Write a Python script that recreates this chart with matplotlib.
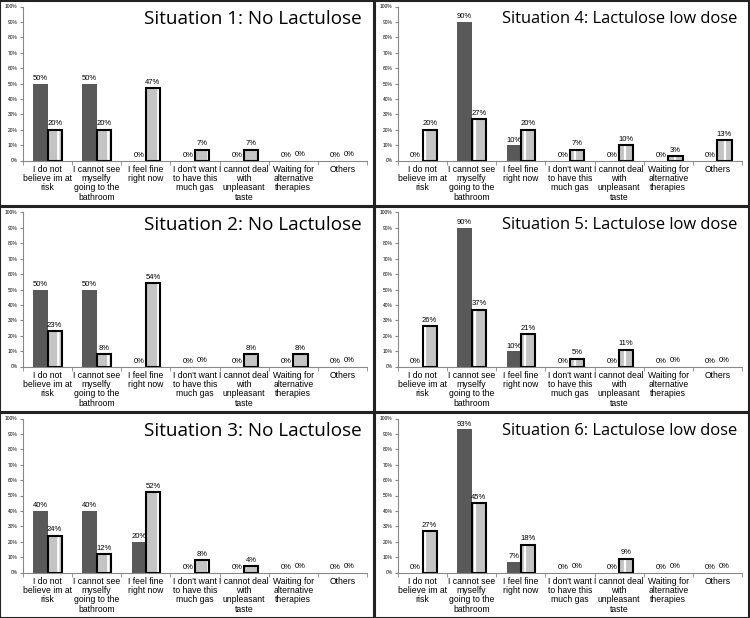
import matplotlib
matplotlib.use('Agg')
from matplotlib import pyplot as plt
from matplotlib.patches import Rectangle
import numpy as np

categories = ["I do not\nbelieve im at\nrisk",
              "I cannot see\nmyselfy\ngoing to the\nbathroom",
              "I feel fine\nright now",
              "I don't want\nto have this\nmuch gas",
              "I cannot deal\nwith\nunpleasant\ntaste",
              "Waiting for\nalternative\ntherapies",
              "Others"]

titles = ["Situation 1: No Lactulose", "Situation 2: No Lactulose",
          "Situation 3: No Lactulose", "Situation 4: Lactulose low dose",
          "Situation 5: Lactulose low dose", "Situation 6: Lactulose low dose"]

# dark bars and striped bars, in percent
dark = [[50, 50, 0, 0, 0, 0, 0],
        [50, 50, 0, 0, 0, 0, 0],
        [40, 40, 20, 0, 0, 0, 0],
        [0, 90, 10, 0, 0, 0, 0],
        [0, 90, 10, 0, 0, 0, 0],
        [0, 93, 7, 0, 0, 0, 0]]
striped = [[20, 20, 47, 7, 7, 0, 0],
           [23, 8, 54, 0, 8, 8, 0],
           [24, 12, 52, 8, 4, 0, 0],
           [20, 27, 20, 7, 10, 3, 13],
           [26, 37, 21, 5, 11, 0, 0],
           [27, 45, 18, 0, 9, 0, 0]]

W, H = 750, 618
fig = plt.figure(figsize=(W / 100, H / 100), dpi=100)
plt.rcParams['font.family'] = 'Liberation Sans'
plt.rcParams['hatch.linewidth'] = 1.6

pw, ph = 375, 206
x = np.arange(len(categories))
bw = 0.29

for k in range(6):
    col = k // 3
    row = k % 3
    px = col * pw
    py = row * ph
    # panel border
    fig.patches.append(Rectangle((px / W, 1 - (py + ph) / H), (pw - 1) / W, (ph - 1) / H,
                                 transform=fig.transFigure, fill=False,
                                 edgecolor='#222222', linewidth=1.5))
    ax = fig.add_axes([(px + 23) / W, 1 - (py + 160.5) / H, 344 / W, 154 / H])
    ax.bar(x - bw / 2, dark[k], bw, color='#595959')
    ax.bar(x + bw / 2, striped[k], bw, color='#c4c4c4', hatch='|', edgecolor='white', linewidth=0)
    edge_w = [1.5 if v > 0 else 0 for v in striped[k]]
    ax.bar(x + bw / 2, striped[k], bw, fill=False, edgecolor='black', linewidth=edge_w)
    for i in range(len(categories)):
        ax.text(x[i] - bw / 2, dark[k][i] + 1, '%d%%' % dark[k][i], ha='center', va='bottom', fontsize=5.5)
        ax.text(x[i] + bw / 2, striped[k][i] + 1.5, '%d%%' % striped[k][i], ha='center', va='bottom', fontsize=5.5)
    ax.set_xlim(-0.5, 6.5)
    ax.set_ylim(0, 100)
    ax.set_yticks(range(0, 101, 10))
    ax.set_yticklabels(['%d%%' % v for v in range(0, 101, 10)], fontsize=3.5)
    ax.set_xticks(x)
    ax.set_xticklabels(categories, fontsize=6.2, linespacing=1.05)
    ax.set_xticks(np.arange(-0.5, 7, 1), minor=True)
    ax.tick_params(axis='x', which='major', length=0, pad=3)
    ax.tick_params(axis='x', which='minor', length=3, color='#888888')
    ax.tick_params(axis='y', length=2, color='#888888', pad=2)
    for s in ['top', 'right']:
        ax.spines[s].set_visible(False)
    for s in ['left', 'bottom']:
        ax.spines[s].set_color('#888888')
        ax.spines[s].set_linewidth(0.8)
    fs = 13.6 if col == 0 else 11.9
    fig.text((px + 362) / W, 1 - (py + 19) / H, titles[k], ha='right', va='center',
             fontsize=fs, family='Open Sans')

fig.savefig('out.png', dpi=100)
